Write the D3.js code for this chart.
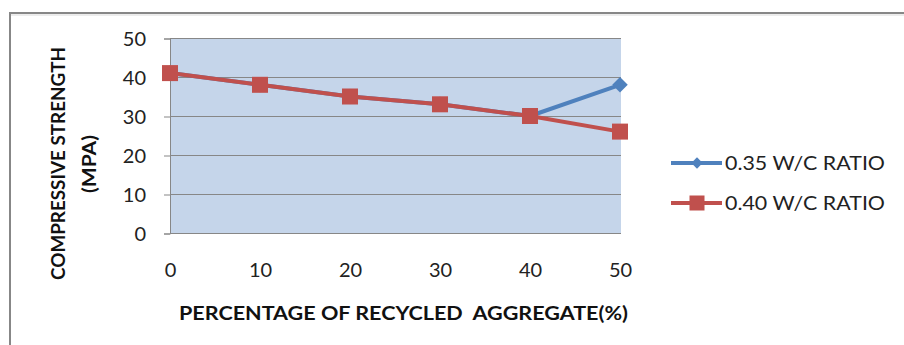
<!DOCTYPE html>
<html><head><meta charset="utf-8">
<script src="https://cdn.jsdelivr.net/npm/d3@7/dist/d3.min.js"></script>
<style>html,body{margin:0;padding:0;background:#fff;}svg{display:block;}text{white-space:pre;}</style>
</head><body>
<script>
const categories = [0, 10, 20, 30, 40, 50];
const seriesNames = ["0.35 W/C RATIO", "0.40 W/C RATIO"];
const series035 = [41, 38, 35, 33, 30, 38];
const series040 = [41, 38, 35, 33, 30, 26];
const yTicks = [0, 10, 20, 30, 40, 50];
const xTitle = "PERCENTAGE OF RECYCLED  AGGREGATE(%)";
const yTitle1 = "COMPRESSIVE STRENGTH";
const yTitle2 = "(MPA)";

const W = 904, H = 345;
const svg = d3.select("body").append("svg").attr("width", W).attr("height", H);
const font = "Lato, 'Open Sans', sans-serif";

// outer chart border
svg.append("rect").attr("x", 10).attr("y", 13).attr("width", 1000).attr("height", 400)
  .attr("fill", "none").attr("stroke", "#878787").attr("stroke-width", 2);
svg.append("line").attr("x1", 11).attr("x2", 904).attr("y1", 15).attr("y2", 15).attr("stroke", "#d9d9d9").attr("stroke-width", 1);

const x = d3.scaleLinear().domain([0, 50]).range([170, 620]);
const y = d3.scaleLinear().domain([0, 50]).range([233, 38]);

// plot area
svg.append("rect").attr("x", x(0)).attr("y", y(50)).attr("width", x(50) - x(0) + 1).attr("height", y(0) - y(50))
  .attr("fill", "#c5d5ea");

// gridlines
svg.append("g").selectAll("line").data(yTicks).join("line")
  .attr("x1", x(0)).attr("x2", x(50) + 1)
  .attr("y1", d => Math.round(y(d)) + 0.5).attr("y2", d => Math.round(y(d)) + 0.5)
  .attr("stroke", "#878787").attr("stroke-width", 1);

// y axis
const yAxis = d3.axisLeft(y).tickValues(yTicks).tickSize(6).tickPadding(18).tickFormat(d3.format("d"));
const gy = svg.append("g").attr("transform", `translate(${x(0)},0.5)`).call(yAxis);
gy.select(".domain").attr("stroke", "#878787");
gy.selectAll(".tick line").attr("stroke", "#878787");
gy.selectAll("text").attr("font-family", font).attr("font-size", 20).attr("fill", "#222").attr("dy", "0.36em");

// x axis labels
const xAxis = d3.axisBottom(x).tickValues(categories).tickSize(0).tickPadding(0).tickFormat(d3.format("d"));
const gx = svg.append("g").attr("transform", `translate(0,${y(0)})`).call(xAxis);
gx.select(".domain").remove();
gx.selectAll("text").attr("font-family", font).attr("font-size", 20).attr("fill", "#222").attr("dy", null).attr("y", 44);

// lines
const line = d3.line().x((d, i) => x(categories[i])).y(d => y(d));
const blue = "#4f81bd", red = "#c0504d";
svg.append("path").datum(series035).attr("d", line).attr("fill", "none").attr("stroke", blue).attr("stroke-width", 4).attr("stroke-linejoin", "round");
svg.append("g").selectAll("path").data(series035).join("path")
  .attr("d", d3.symbol().type(d3.symbolSquare).size(120)()).attr("fill", blue)
  .attr("transform", (d, i) => `translate(${x(categories[i])},${y(d)}) rotate(45)`);
svg.append("path").datum(series040).attr("d", line).attr("fill", "none").attr("stroke", red).attr("stroke-width", 4).attr("stroke-linejoin", "round");
svg.append("g").selectAll("rect").data(series040).join("rect")
  .attr("x", (d, i) => x(categories[i]) - 8).attr("y", d => y(d) - 8)
  .attr("width", 16).attr("height", 16).attr("fill", red);

// axis titles
svg.append("text").attr("x", (179 + 628) / 2).attr("y", 320).attr("text-anchor", "middle")
  .attr("font-family", font).attr("font-weight", "bold").attr("font-size", 19).attr("fill", "#111")
  .attr("textLength", 449).attr("lengthAdjust", "spacingAndGlyphs").text(xTitle);
svg.append("text").attr("transform", "translate(65,163.5) rotate(-90)").attr("text-anchor", "middle")
  .attr("font-family", font).attr("font-weight", "bold").attr("font-size", 19).attr("fill", "#111")
  .attr("textLength", 233).attr("lengthAdjust", "spacingAndGlyphs").text(yTitle1);
svg.append("text").attr("transform", "translate(96,164) rotate(-90)").attr("text-anchor", "middle")
  .attr("font-family", font).attr("font-weight", "bold").attr("font-size", 19).attr("fill", "#111")
  .attr("textLength", 58).attr("lengthAdjust", "spacingAndGlyphs").text(yTitle2);

// legend
const legY = [163, 203];
const lg = svg.append("g");
seriesNames.forEach((name, i) => {
  const c = i === 0 ? blue : red;
  lg.append("line").attr("x1", 671).attr("x2", 722).attr("y1", legY[i]).attr("y2", legY[i])
    .attr("stroke", c).attr("stroke-width", 4);
  if (i === 0) {
    lg.append("path").attr("d", d3.symbol().type(d3.symbolSquare).size(64)())
      .attr("transform", `translate(697,${legY[i]}) rotate(45)`).attr("fill", c);
  } else {
    lg.append("rect").attr("x", 697 - 7.5).attr("y", legY[i] - 7.5).attr("width", 15).attr("height", 15).attr("fill", c);
  }
  lg.append("text").attr("x", 725).attr("y", legY[i]).attr("dy", "0.36em")
    .attr("font-family", font).attr("font-size", 20).attr("fill", "#222")
    .attr("textLength", 160).attr("lengthAdjust", "spacingAndGlyphs").text(name);
});
</script>
</body></html>
